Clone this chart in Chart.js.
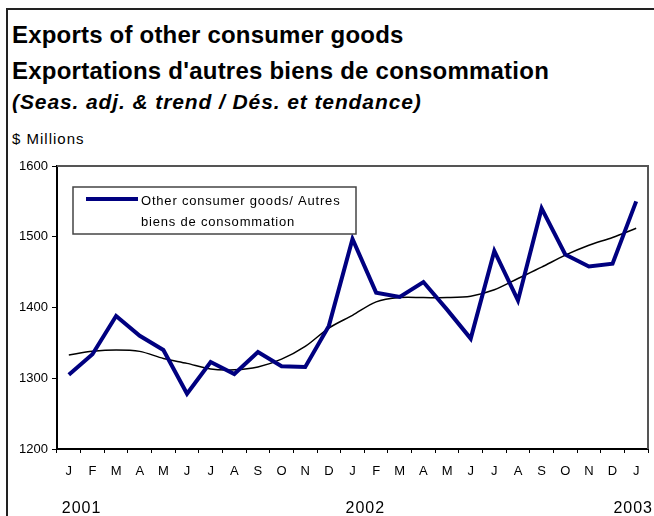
<!DOCTYPE html>
<html>
<head>
<meta charset="utf-8">
<script src="https://cdn.jsdelivr.net/npm/chart.js@4.4.0/dist/chart.umd.min.js"></script>
<style>
  html, body { margin: 0; padding: 0; background: #fff; }
  body { width: 654px; height: 516px; position: relative; overflow: hidden; font-family: "Liberation Sans", Arial, sans-serif; }
  .frame { position: absolute; left: 6px; top: 8px; width: 660px; height: 520px; border-left: 2px solid #222; border-top: 2px solid #222; }
  .t { position: absolute; left: 12px; white-space: nowrap; color: #000; }
  #t1 { top: 21px; font-size: 24px; font-weight: bold; letter-spacing: 0.2px; }
  #t2 { top: 57px; font-size: 24px; font-weight: bold; letter-spacing: 0.23px; }
  #t3 { top: 90px; font-size: 21px; font-weight: bold; font-style: italic; letter-spacing: 0.9px; }
  #t4 { top: 130px; font-size: 15px; letter-spacing: 1px; }
  #wrap { position: absolute; left: 0; top: 150px; width: 654px; height: 366px; }
</style>
</head>
<body>
<div class="frame"></div>
<div class="t" id="t1">Exports of other consumer goods</div>
<div class="t" id="t2">Exportations d'autres biens de consommation</div>
<div class="t" id="t3">(Seas. adj. &amp; trend / Dés. et tendance)</div>
<div class="t" id="t4">$ Millions</div>
<div id="wrap"><canvas id="chart" width="654" height="366"></canvas></div>
<script>
// month labels, Jan 2001 .. Jan 2003
const months = ['J','F','M','A','M','J','J','A','S','O','N','D',
                'J','F','M','A','M','J','J','A','S','O','N','D','J'];
const yearLabels = ['2001', '2002', '2003'];
const yearIndex = [0, 12, 24];

// seasonally adjusted series
const seasAdj = [1305, 1334, 1388, 1360, 1340, 1278, 1323, 1306, 1337, 1317, 1316, 1374,
                 1497, 1421, 1415, 1436, 1397, 1356, 1480, 1410, 1540, 1475, 1458, 1462, 1550];
// trend
const trend = [1333, 1338, 1340, 1338, 1328, 1321, 1313, 1312, 1316, 1327, 1345, 1371,
               1389, 1408, 1414, 1414, 1414, 1416, 1425, 1441, 1457, 1474, 1488, 1499, 1512];

const yTicks = [1200, 1300, 1400, 1500, 1600];

const legendText = ['Other consumer goods/ Autres', 'biens de consommation'];

const frameAndLegend = {
    id: 'frameAndLegend',
    afterDraw(chart) {
        const ctx = chart.ctx;
        const a = chart.chartArea;
        ctx.save();
        // top and right plot border
        ctx.strokeStyle = '#555';
        ctx.lineWidth = 2;
        ctx.beginPath();
        ctx.moveTo(a.left, a.top);
        ctx.lineTo(a.right, a.top);
        ctx.lineTo(a.right, a.bottom);
        ctx.stroke();

        // legend box
        const bx = a.left + 16, by = a.top + 21, bw = 283, bh = 47;
        ctx.fillStyle = '#fff';
        ctx.fillRect(bx, by, bw, bh);
        ctx.strokeStyle = '#444';
        ctx.lineWidth = 1.5;
        ctx.strokeRect(bx, by, bw, bh);
        ctx.strokeStyle = chart.data.datasets[0].borderColor;
        ctx.lineWidth = 4;
        ctx.beginPath();
        ctx.moveTo(bx + 13, by + 12);
        ctx.lineTo(bx + 65, by + 12);
        ctx.stroke();
        ctx.fillStyle = '#000';
        ctx.font = '13px "Liberation Sans", Arial, sans-serif';
        ctx.letterSpacing = '0.8px';
        ctx.textBaseline = 'middle';
        ctx.textAlign = 'left';
        ctx.fillText(legendText[0], bx + 68, by + 14);
        ctx.fillText(legendText[1], bx + 68, by + 35);

        // year labels under the month letters
        const xs = chart.scales.x;
        ctx.font = '16px "Liberation Sans", Arial, sans-serif';
        ctx.letterSpacing = '1px';
        ctx.textBaseline = 'middle';
        ctx.textAlign = 'left';
        yearLabels.forEach((yr, i) => {
            let px = xs.getPixelForValue(yearIndex[i]) - 7;
            const w = ctx.measureText(yr).width;
            if (px + w > chart.width - 1) px = chart.width - 1 - w;
            ctx.fillText(yr, px, a.bottom + 60);
        });
        ctx.restore();
    }
};

const ctx = document.getElementById('chart').getContext('2d');
new Chart(ctx, {
    type: 'line',
    data: {
        labels: months,
        datasets: [{
            label: legendText.join(' '),
            data: seasAdj,
            borderColor: '#000080',
            borderWidth: 4,
            pointRadius: 0,
            tension: 0,
            order: 1
        }, {
            label: 'Trend',
            data: trend,
            borderColor: '#000',
            borderWidth: 1.5,
            pointRadius: 0,
            tension: 0.3,
            order: 2
        }]
    },
    options: {
        responsive: false,
        animation: false,
        devicePixelRatio: 1,
        layout: { padding: { left: 0, right: 6, top: 16, bottom: 0 } },
        plugins: { legend: { display: false }, tooltip: { enabled: false } },
        scales: {
            x: {
                offset: true,
                grid: { offset: true, drawOnChartArea: false, tickLength: 4, color: '#000', lineWidth: 1 },
                border: { color: '#000', width: 2 },
                ticks: { autoSkip: false, maxRotation: 0, padding: 11, color: '#000',
                         font: { size: 13, family: '"Liberation Sans", Arial, sans-serif' } },
                afterFit: s => { s.height = 67; }
            },
            y: {
                min: 1200,
                max: 1600,
                afterBuildTicks: s => { s.ticks = yTicks.map(v => ({ value: v })); },
                grid: { drawOnChartArea: false, tickLength: 5, color: '#000' },
                border: { color: '#000', width: 2 },
                ticks: { padding: 4, color: '#000', callback: v => String(v),
                         font: { size: 13, family: '"Liberation Sans", Arial, sans-serif' } },
                afterFit: s => { s.width = 57; }
            }
        }
    },
    plugins: [frameAndLegend]
});
</script>
</body>
</html>
